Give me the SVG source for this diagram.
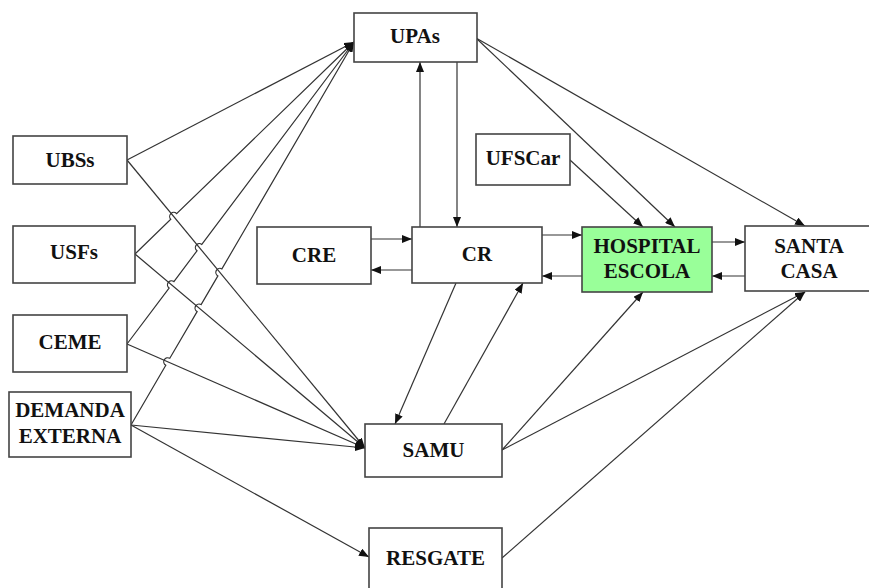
<svg xmlns="http://www.w3.org/2000/svg" width="869" height="588" viewBox="0 0 869 588">
<defs>
<marker id="arr" markerUnits="userSpaceOnUse" markerWidth="10" markerHeight="8" refX="10" refY="4" orient="auto">
<path d="M0,0 L10,4 L0,8 z" fill="#111"/>
</marker>
<style>
.box{fill:#fff;stroke:#444;stroke-width:1.6}
.hosp{fill:#99ff99;stroke:#444;stroke-width:1.6}
.lbl{font-family:"Liberation Serif","Times New Roman",serif;font-weight:bold;font-size:21px;fill:#111;text-anchor:middle}
.c{fill:none;stroke:#333;stroke-width:1.2}
</style>
</defs>
<rect width="869" height="588" fill="#fff"/>
<g id="connectors">
<path class="c" d="M127,160 L354,42" marker-end="url(#arr)"/>
<path class="c" d="M135,254 L170.8,219.3 A4,4 0 0 1 176.6,213.7 L354,42" marker-end="url(#arr)"/>
<path class="c" d="M127,344 L169.1,288.0 A4,4 0 0 1 173.9,281.6 L197.0,250.8 A4,4 0 0 1 201.8,244.4 L354,42" marker-end="url(#arr)"/>
<path class="c" d="M131,425 L165.8,365.3 A4,4 0 0 1 169.8,358.3 L197.1,311.6 A4,4 0 0 1 201.1,304.6 L217.9,275.9 A4,4 0 0 1 221.9,268.9 L354,42" marker-end="url(#arr)"/>
<path class="c" d="M127,160 L365,448" marker-end="url(#arr)"/>
<path class="c" d="M135,254 L365,448" marker-end="url(#arr)"/>
<path class="c" d="M127,344 L365,448" marker-end="url(#arr)"/>
<path class="c" d="M131,425 L365,448" marker-end="url(#arr)"/>
<path class="c" d="M131,425 L369,557" marker-end="url(#arr)"/>
<path class="c" d="M420,227 L420,62" marker-end="url(#arr)"/>
<path class="c" d="M457,62 L457,227" marker-end="url(#arr)"/>
<path class="c" d="M371,239 L412,239" marker-end="url(#arr)"/>
<path class="c" d="M412,270 L371,270" marker-end="url(#arr)"/>
<path class="c" d="M542,235 L582,235" marker-end="url(#arr)"/>
<path class="c" d="M582,276 L542,276" marker-end="url(#arr)"/>
<path class="c" d="M712,242 L745,242" marker-end="url(#arr)"/>
<path class="c" d="M745,276 L712,276" marker-end="url(#arr)"/>
<path class="c" d="M476,38 L675,227" marker-end="url(#arr)"/>
<path class="c" d="M570,160 L643,227" marker-end="url(#arr)"/>
<path class="c" d="M476,38 L805,226" marker-end="url(#arr)"/>
<path class="c" d="M456,283 L395,424" marker-end="url(#arr)"/>
<path class="c" d="M444,424 L523,283" marker-end="url(#arr)"/>
<path class="c" d="M502,450 L643,292" marker-end="url(#arr)"/>
<path class="c" d="M502,450 L805,292" marker-end="url(#arr)"/>
<path class="c" d="M502,558 L805,292" marker-end="url(#arr)"/>
</g>
<g id="upas"><rect class="box" x="354" y="13" width="123" height="49"/><text class="lbl" x="415" y="43">UPAs</text></g>
<g id="ubss"><rect class="box" x="13" y="136" width="114" height="48"/><text class="lbl" x="70" y="167">UBSs</text></g>
<g id="usfs"><rect class="box" x="13" y="226" width="122" height="57"/><text class="lbl" x="74" y="259">USFs</text></g>
<g id="ceme"><rect class="box" x="13" y="315" width="114" height="57"/><text class="lbl" x="70" y="349">CEME</text></g>
<g id="demanda"><rect class="box" x="9" y="392" width="122" height="65"/><text class="lbl" x="70" y="417">DEMANDA</text><text class="lbl" x="70" y="443">EXTERNA</text></g>
<g id="cre"><rect class="box" x="257" y="227" width="114" height="57"/><text class="lbl" x="314" y="262">CRE</text></g>
<g id="cr"><rect class="box" x="412" y="227" width="130" height="56"/><text class="lbl" x="477" y="261">CR</text></g>
<g id="hospital"><rect class="hosp" x="582" y="227" width="130" height="65"/><text class="lbl" x="647" y="253">HOSPITAL</text><text class="lbl" x="647" y="278">ESCOLA</text></g>
<g id="santacasa"><rect class="box" x="745" y="226" width="128" height="65"/><text class="lbl" x="809" y="253">SANTA</text><text class="lbl" x="809" y="278">CASA</text></g>
<g id="ufscar"><rect class="box" x="476" y="134" width="94" height="51"/><text class="lbl" x="523" y="165">UFSCar</text></g>
<g id="samu"><rect class="box" x="365" y="424" width="137" height="53"/><text class="lbl" x="433.5" y="457">SAMU</text></g>
<g id="resgate"><rect class="box" x="369" y="528" width="133" height="70"/><text class="lbl" x="435.5" y="565">RESGATE</text></g>
</svg>
